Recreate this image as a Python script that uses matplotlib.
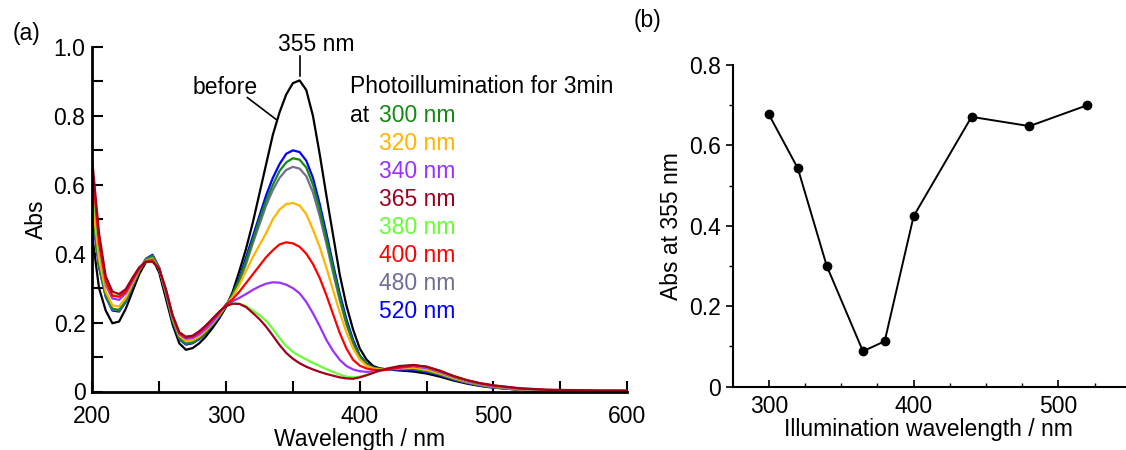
import numpy as np
import matplotlib.pyplot as plt

plt.rcParams['font.family'] = ['Liberation Sans', 'DejaVu Sans']
plt.rcParams['font.size'] = 16.5

# wavelength grid of the spectra (nm)
wl = [200, 205, 210, 215, 220, 225, 230, 235, 240, 245,
      250, 255, 260, 265, 270, 275, 280, 285, 290, 295,
      300, 305, 310, 315, 320, 325, 330, 335, 340, 345,
      350, 355, 360, 365, 370, 375, 380, 385, 390, 395,
      400, 405, 410, 415, 420, 430, 440, 450, 460,
      470, 480, 490, 500, 520, 540, 560, 580, 600]

abs_before = [0.45, 0.30, 0.235, 0.198, 0.203, 0.24, 0.29, 0.34, 0.375, 0.386,
              0.345, 0.27, 0.195, 0.14, 0.121, 0.126, 0.14, 0.16, 0.185, 0.213,
              0.245, 0.29, 0.35, 0.415, 0.49, 0.575, 0.66, 0.745, 0.81, 0.862,
              0.895, 0.903, 0.875, 0.80, 0.69, 0.57, 0.455, 0.34, 0.25, 0.18,
              0.125, 0.093, 0.074, 0.067, 0.064, 0.061, 0.058, 0.052, 0.043,
              0.032, 0.023, 0.016, 0.011, 0.005, 0.002, 0.001, 0.0, 0.0]

abs_300 = [0.53, 0.37, 0.28, 0.24, 0.237, 0.263, 0.307, 0.35, 0.383, 0.393,
           0.358, 0.285, 0.207, 0.155, 0.138, 0.142, 0.155, 0.173, 0.195, 0.22,
           0.25, 0.283, 0.325, 0.38, 0.44, 0.50, 0.555, 0.60, 0.64, 0.665,
           0.677, 0.673, 0.65, 0.60, 0.53, 0.445, 0.36, 0.275, 0.20, 0.143,
           0.102, 0.08, 0.069, 0.066, 0.065, 0.066, 0.066, 0.06, 0.05,
           0.037, 0.027, 0.019, 0.013, 0.006, 0.003, 0.002, 0.001, 0.001]

abs_320 = [0.557, 0.385, 0.29, 0.25, 0.247, 0.272, 0.313, 0.353, 0.38, 0.386,
           0.355, 0.29, 0.213, 0.162, 0.146, 0.149, 0.16, 0.177, 0.198, 0.223,
           0.25, 0.275, 0.31, 0.35, 0.39, 0.425, 0.46, 0.50, 0.528, 0.544,
           0.547, 0.54, 0.515, 0.47, 0.42, 0.36, 0.295, 0.23, 0.172, 0.125,
           0.093, 0.075, 0.067, 0.064, 0.064, 0.067, 0.069, 0.063, 0.052,
           0.039, 0.028, 0.02, 0.014, 0.006, 0.003, 0.002, 0.001, 0.001]

abs_340 = [0.615, 0.42, 0.31, 0.27, 0.266, 0.285, 0.32, 0.355, 0.378, 0.383,
           0.355, 0.292, 0.217, 0.167, 0.153, 0.155, 0.166, 0.182, 0.202, 0.226,
           0.253, 0.262, 0.272, 0.283, 0.295, 0.305, 0.313, 0.317, 0.316, 0.31,
           0.30, 0.285, 0.26, 0.227, 0.19, 0.15, 0.118, 0.092, 0.074, 0.064,
           0.059, 0.057, 0.058, 0.06, 0.063, 0.069, 0.073, 0.068, 0.056,
           0.042, 0.03, 0.021, 0.015, 0.007, 0.004, 0.002, 0.002, 0.001]

abs_365 = [0.668, 0.46, 0.335, 0.29, 0.283, 0.297, 0.33, 0.36, 0.377, 0.377,
           0.356, 0.297, 0.222, 0.172, 0.159, 0.162, 0.175, 0.192, 0.212, 0.232,
           0.248, 0.255, 0.254, 0.245, 0.228, 0.21, 0.188, 0.162, 0.135, 0.112,
           0.095, 0.082, 0.072, 0.064, 0.057, 0.051, 0.046, 0.041, 0.038, 0.037,
           0.041, 0.047, 0.054, 0.061, 0.066, 0.074, 0.077, 0.072, 0.06,
           0.045, 0.033, 0.024, 0.018, 0.009, 0.005, 0.004, 0.003, 0.003]

abs_380 = [0.60, 0.42, 0.315, 0.28, 0.278, 0.293, 0.328, 0.358, 0.377, 0.378,
           0.356, 0.296, 0.221, 0.171, 0.158, 0.161, 0.174, 0.191, 0.211, 0.231,
           0.248, 0.255, 0.255, 0.248, 0.235, 0.222, 0.205, 0.182, 0.155, 0.132,
           0.115, 0.103, 0.093, 0.083, 0.074, 0.065, 0.057, 0.049, 0.043, 0.041,
           0.043, 0.048, 0.055, 0.061, 0.066, 0.073, 0.076, 0.071, 0.059,
           0.044, 0.032, 0.023, 0.017, 0.008, 0.004, 0.003, 0.002, 0.002]

abs_400 = [0.64, 0.43, 0.32, 0.278, 0.275, 0.29, 0.325, 0.356, 0.376, 0.378,
           0.356, 0.295, 0.22, 0.17, 0.157, 0.16, 0.172, 0.19, 0.21, 0.23,
           0.252, 0.268, 0.29, 0.315, 0.34, 0.365, 0.39, 0.41, 0.427, 0.433,
           0.43, 0.42, 0.40, 0.37, 0.33, 0.28, 0.225, 0.17, 0.125, 0.092,
           0.075, 0.067, 0.063, 0.062, 0.063, 0.07, 0.076, 0.072, 0.06,
           0.045, 0.033, 0.024, 0.017, 0.009, 0.005, 0.003, 0.002, 0.002]

abs_480 = [0.523, 0.365, 0.278, 0.238, 0.235, 0.262, 0.306, 0.35, 0.383, 0.394,
           0.358, 0.285, 0.207, 0.155, 0.139, 0.143, 0.155, 0.173, 0.195, 0.22,
           0.25, 0.28, 0.32, 0.37, 0.43, 0.485, 0.54, 0.585, 0.62, 0.643,
           0.652, 0.647, 0.625, 0.578, 0.51, 0.43, 0.345, 0.265, 0.195, 0.14,
           0.10, 0.078, 0.068, 0.065, 0.064, 0.065, 0.065, 0.059, 0.049,
           0.036, 0.026, 0.018, 0.012, 0.005, 0.002, 0.001, 0.0, 0.0]

abs_520 = [0.508, 0.36, 0.275, 0.235, 0.232, 0.26, 0.305, 0.35, 0.385, 0.397,
           0.36, 0.285, 0.205, 0.152, 0.136, 0.14, 0.152, 0.17, 0.192, 0.218,
           0.248, 0.285, 0.33, 0.39, 0.45, 0.51, 0.57, 0.62, 0.66, 0.69,
           0.70, 0.695, 0.67, 0.62, 0.545, 0.46, 0.37, 0.285, 0.21, 0.15,
           0.105, 0.082, 0.07, 0.066, 0.064, 0.064, 0.063, 0.057, 0.047,
           0.035, 0.025, 0.017, 0.012, 0.005, 0.002, 0.001, 0.0, 0.0]

illum_labels = ['300 nm', '320 nm', '340 nm', '365 nm', '380 nm', '400 nm', '480 nm', '520 nm']
illum_colors = ['#128a12', '#ffb400', '#9b30ff', '#a0001e', '#66ff33', '#ff0000', '#6e6e96', '#0000ff']
spectra = [abs_300, abs_320, abs_340, abs_365, abs_380, abs_400, abs_480, abs_520]

# panel (b): absorbance at 355 nm after illumination
illum_wl = [300, 320, 340, 365, 380, 400, 440, 480, 520]
abs_355 = [0.677, 0.543, 0.300, 0.088, 0.113, 0.424, 0.671, 0.648, 0.700]


fig = plt.figure(figsize=(11.26, 4.5), dpi=100)

# ---- (a) spectra ----
ax1 = fig.add_axes([0.082, 0.13, 0.475, 0.7656])
ax1.plot(wl, abs_before, color='black', lw=1.6)
draw_order = [7, 6, 0, 1, 2, 4, 5, 3]
for i in draw_order:
    ax1.plot(wl, spectra[i], color=illum_colors[i], lw=1.6)

ax1.set_xlim(200, 600)
ax1.set_ylim(0, 1.0)
ax1.set_xticks([200, 300, 400, 500, 600])
ax1.set_xticks(np.arange(250, 600, 100), minor=True)
ax1.set_yticks([0, 0.2, 0.4, 0.6, 0.8, 1.0])
ax1.set_yticklabels(['0', '0.2', '0.4', '0.6', '0.8', '1.0'])
ax1.set_yticks(np.arange(0.1, 1.0, 0.2), minor=True)
ax1.tick_params(which='both', direction='in', length=8, width=1.5)
ax1.tick_params(axis='y', pad=5)
ax1.tick_params(axis='x', pad=9.5)
for s in ['top', 'right']:
    ax1.spines[s].set_visible(False)
for s in ['left', 'bottom']:
    ax1.spines[s].set_linewidth(2)
ax1.set_xlabel('Wavelength / nm', labelpad=0)
ax1.set_ylabel('Abs', labelpad=4)

ax1.text(339, 1.007, '355 nm', ha='left', va='center')
ax1.plot([355, 355], [0.915, 0.973], color='black', lw=1.2)
ax1.text(299, 0.882, 'before', ha='center', va='center')
ax1.plot([316, 337.7], [0.853, 0.789], color='black', lw=1.2)

ax1.text(392.7, (391.5 - 87) / 344, 'Photoillumination for 3min', ha='left', va='center')
ax1.text(392.7, (391.5 - 115.5) / 344, 'at', ha='left', va='center')
for i, lab in enumerate(illum_labels):
    ax1.text(414.4, (391.5 - 115.5 - 28.07 * i) / 344, lab, color=illum_colors[i],
             ha='left', va='center')

# ---- (b) Abs at 355 nm ----
ax2 = fig.add_axes([0.6507, 0.1407, 0.3484, 0.7149])
ax2.plot(illum_wl, abs_355, color='black', lw=1.4, marker='o', ms=6)
ax2.set_xlim(275, 546)
ax2.set_ylim(0, 0.8)
ax2.set_xticks([300, 400, 500])
ax2.set_xticks([325, 350, 375, 425, 450, 475, 525], minor=True)
ax2.set_yticks([0, 0.2, 0.4, 0.6, 0.8])
ax2.set_yticklabels(['0', '0.2', '0.4', '0.6', '0.8'])
ax2.set_yticks([0.1, 0.3, 0.5, 0.7], minor=True)
ax2.tick_params(axis='x', which='major', direction='in', length=5, width=1.2, pad=6)
ax2.tick_params(axis='x', which='minor', direction='in', length=3, width=1.0)
ax2.tick_params(axis='y', which='major', direction='out', length=5, width=1.2)
ax2.tick_params(axis='y', which='minor', direction='out', length=3, width=1.0)
for s in ['top', 'right']:
    ax2.spines[s].set_visible(False)
for s in ['left', 'bottom']:
    ax2.spines[s].set_linewidth(1.5)
ax2.set_xlabel('Illumination wavelength / nm', labelpad=0)
ax2.set_ylabel('Abs at 355 nm', labelpad=4)

fig.text(0.011, 0.925, '(a)', ha='left', va='center')
fig.text(0.563, 0.955, '(b)', ha='left', va='center')

fig.savefig('out.png', dpi=100)
